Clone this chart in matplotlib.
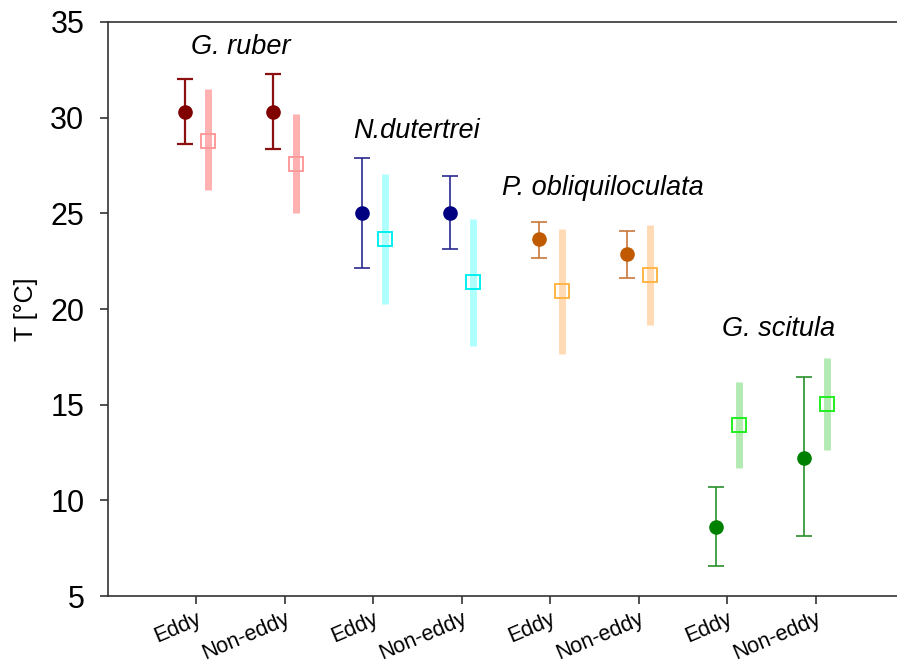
import matplotlib
matplotlib.use("Agg")
import matplotlib.pyplot as plt
import numpy as np

plt.rcParams['font.family'] = ['Liberation Sans', 'DejaVu Sans']

tick_labels = ["Eddy", "Non-eddy"] * 4
species = ["G. ruber", "N.dutertrei", "P. obliquiloculata", "G. scitula"]

# filled circles (measured) with error bar ends
circ_val = [30.28, 30.31, 25.00, 25.03, 23.64, 22.87, 8.62, 12.24]
circ_hi = [32.00, 32.28, 27.87, 26.97, 24.55, 24.07, 10.71, 16.43]
circ_lo = [28.62, 28.35, 22.16, 23.13, 22.68, 21.62, 6.55, 8.15]

# open squares (estimated) with range bars
sq_val = [28.80, 27.59, 23.64, 21.39, 20.92, 21.76, 13.93, 15.02]
sq_hi = [31.48, 30.17, 27.04, 24.72, 24.16, 24.37, 16.17, 17.42]
sq_lo = [26.22, 25.00, 20.24, 18.06, 17.65, 19.15, 11.69, 12.61]

circ_colors = ["#800000", "#000080", "#c05a00", "#008000"]
err_colors = ["#8b1010", "#2a2a90", "#c8773a", "#2a902a"]
bar_colors = ["#ffb0b0", "#b0ffff", "#ffdab5", "#b3ebb3"]
sq_colors = ["#ff9a9a", "#00f0f0", "#ffb545", "#22ee22"]

label_pos = [(1.5, 33.7), (3.49, 29.3), (5.59, 26.3), (7.58, 18.95)]

fig = plt.figure(figsize=(8.97, 6.66), dpi=100)
ax = fig.add_axes([0.1204, 0.105, 0.8796, 0.862])

x = np.arange(1, 9)
off = 0.13
for i in range(8):
    g = i // 2
    # light range bar for squares
    ax.plot([x[i] + off, x[i] + off], [sq_lo[i], sq_hi[i]], color=bar_colors[g],
            lw=5, solid_capstyle='butt', zorder=2)
    ax.plot(x[i] + off, sq_val[i], marker='s', ms=10.5, mfc='none',
            mec=sq_colors[g], mew=1.4, ls='none', zorder=3)
    ax.errorbar(x[i] - off, circ_val[i],
                yerr=[[circ_val[i] - circ_lo[i]], [circ_hi[i] - circ_val[i]]],
                fmt='o', ms=9.5, color=circ_colors[g], ecolor=err_colors[g],
                elinewidth=1.6 if g == 0 else 1.2, capsize=5.5,
                capthick=1.6 if g == 0 else 1.2, zorder=4)

for s, (lx, ly) in zip(species, label_pos):
    ax.text(lx, ly, s, fontsize=19.5, style='italic', ha='center', va='center')

ax.set_xlim(0, 8.92)
ax.set_ylim(5, 35)
ax.set_yticks([5, 10, 15, 20, 25, 30, 35])
ax.set_xticks(x)
ax.set_xticklabels(tick_labels, rotation=23, ha='right', rotation_mode='anchor', fontsize=15.5)
ax.tick_params(axis='y', labelsize=22, length=6, width=1.2, pad=11, color='#333333')
ax.tick_params(axis='x', length=6, width=1.2, pad=3, color='#333333')
ax.set_ylabel("T [°C]", fontsize=18, labelpad=9)
for sp in ['left', 'bottom', 'top']:
    ax.spines[sp].set_linewidth(1.2)
    ax.spines[sp].set_color('#333333')
ax.spines['right'].set_visible(False)

fig.savefig("out.png", dpi=100)
